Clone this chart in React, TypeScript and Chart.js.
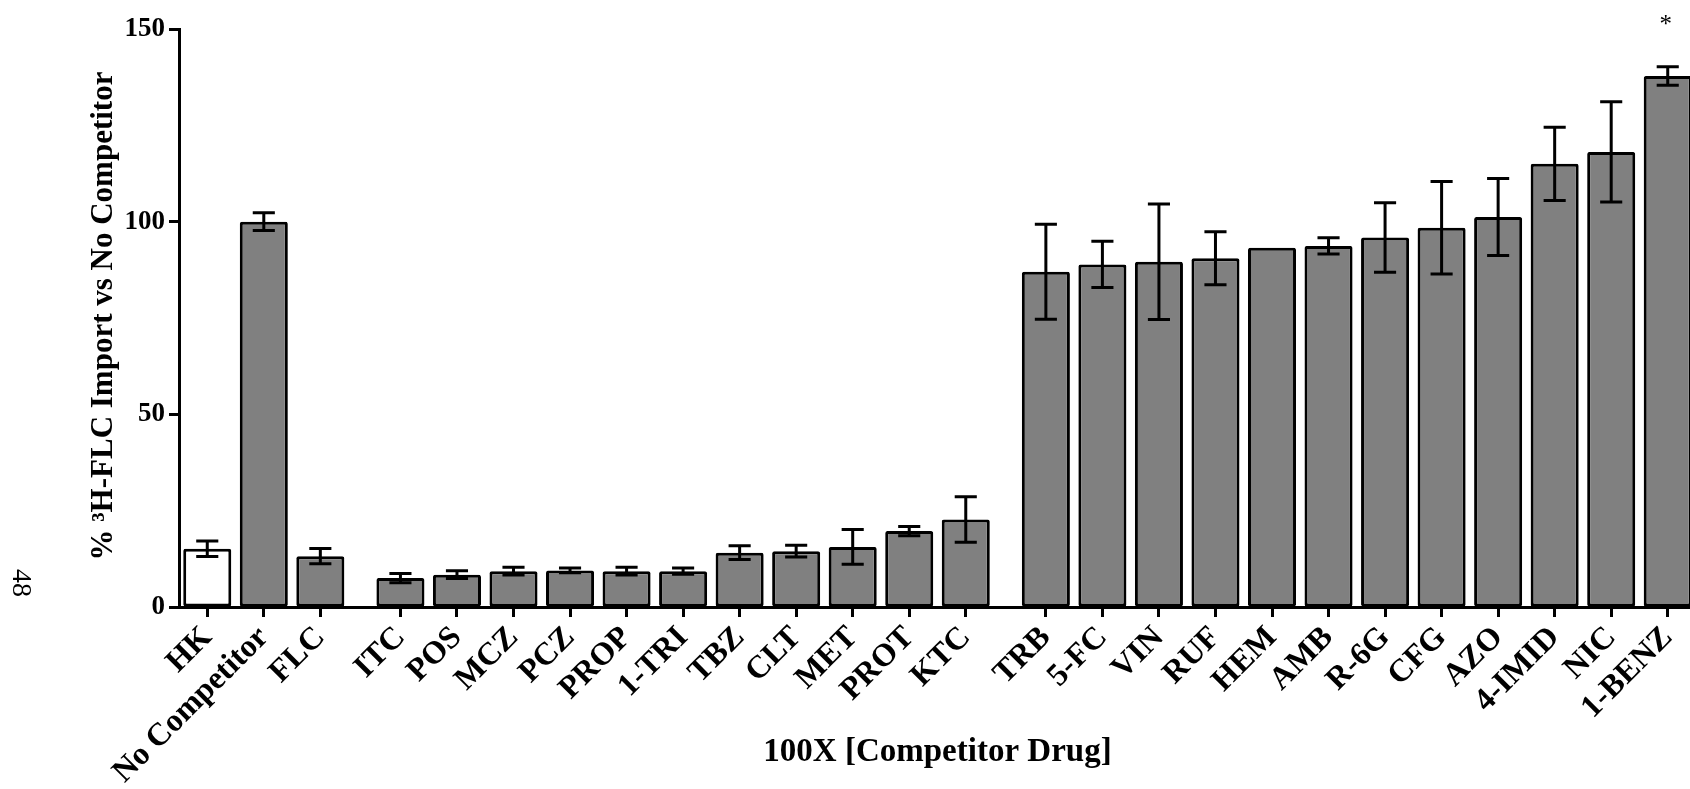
import React, { useEffect, useRef } from 'react';
import { Chart, registerables } from 'chart.js';

Chart.register(...registerables);

// ---- data ----
const categories = [
  'HK', 'No Competitor', 'FLC',
  'ITC', 'POS', 'MCZ', 'PCZ', 'PROP', '1-TRI', 'TBZ', 'CLT', 'MET', 'PROT', 'KTC',
  'TRB', '5-FC', 'VIN', 'RUF', 'HEM', 'AMB', 'R-6G', 'CFG', 'AZO', '4-IMID', 'NIC', '1-BENZ',
];
const groupOf = [
  0, 0, 0,
  1, 1, 1, 1, 1, 1, 1, 1, 1, 1, 1,
  2, 2, 2, 2, 2, 2, 2, 2, 2, 2, 2, 2,
];
const meanValues = [
  15.1, 100.0, 13.2,
  7.5, 8.4, 9.3, 9.5, 9.3, 9.3, 14.1, 14.5, 15.6, 19.7, 22.7,
  87.0, 88.9, 89.6, 90.5, 93.2, 93.7, 95.9, 98.4, 101.2, 115.0, 118.1, 137.8,
];
const errorValues = [
  2.0, 2.3, 2.0,
  1.2, 1.0, 1.0, 0.6, 1.0, 0.8, 1.8, 1.5, 4.5, 1.2, 5.9,
  12.3, 6.0, 15.0, 6.9, 0, 2.1, 9.0, 12.0, 10.0, 9.5, 13.0, 2.4,
];
const significant = ['1-BENZ'];
const controlCategory = 'HK';
const yTickValues = [0, 50, 100, 150];
const yTitle = '% ³H-FLC Import vs No Competitor';
const xTitle = '100X [Competitor Drug]';
const pageNumber = '48';

// ---- layout / style ----
const GROUP_GAP = 0.417;
const positions = categories.map((_, i) => i + groupOf[i] * GROUP_GAP);
const SERIF = "'Liberation Serif', 'Times New Roman', serif";
const GRAY = '#808080';

const overlayPlugin = {
  id: 'overlay',
  afterDatasetsDraw(chart: any) {
    const { ctx } = chart;
    const yScale = chart.scales.y;
    const meta = chart.getDatasetMeta(0);
    ctx.save();
    ctx.strokeStyle = '#000';
    ctx.lineWidth = 3;
    ctx.lineCap = 'butt';
    meta.data.forEach((bar: any, i: number) => {
      const e = errorValues[i];
      const cx = bar.x;
      const half = bar.width * 0.23;
      const top = yScale.getPixelForValue(meanValues[i] + e);
      const bot = yScale.getPixelForValue(meanValues[i] - e);
      if (e > 0) {
        ctx.beginPath();
        ctx.moveTo(cx, top);
        ctx.lineTo(cx, bot);
        ctx.moveTo(cx - half, top);
        ctx.lineTo(cx + half, top);
        ctx.moveTo(cx - half, bot);
        ctx.lineTo(cx + half, bot);
        ctx.stroke();
      }
      if (significant.includes(categories[i])) {
        ctx.fillStyle = '#000';
        ctx.font = `25px ${SERIF}`;
        ctx.textAlign = 'center';
        ctx.textBaseline = 'alphabetic';
        ctx.fillText('*', cx - 2, top - 35);
      }
    });
    ctx.restore();
  },
  afterDraw(chart: any) {
    const { ctx, chartArea } = chart;
    ctx.save();
    ctx.fillStyle = '#000';
    // y title
    ctx.save();
    ctx.translate(chartArea.left - 67, (chartArea.top + chartArea.bottom) / 2 - 2);
    ctx.rotate(-Math.PI / 2);
    ctx.font = `bold 31px ${SERIF}`;
    ctx.textAlign = 'center';
    ctx.textBaseline = 'alphabetic';
    ctx.fillText(yTitle, 0, 0);
    ctx.restore();
    // x title
    ctx.font = `bold 33px ${SERIF}`;
    ctx.textAlign = 'center';
    ctx.textBaseline = 'alphabetic';
    ctx.fillText(xTitle, (chartArea.left + chartArea.right) / 2, 761);
    // page number
    ctx.save();
    ctx.translate(20, 583);
    ctx.rotate(Math.PI / 2);
    ctx.font = `28px ${SERIF}`;
    ctx.textAlign = 'center';
    ctx.textBaseline = 'middle';
    ctx.fillText(pageNumber, 0, 0);
    ctx.restore();
    ctx.restore();
  },
};

export default function App() {
  const canvasRef = useRef<HTMLCanvasElement | null>(null);

  useEffect(() => {
    const canvas = canvasRef.current;
    if (!canvas) return;
    const axisGrid = {
      drawOnChartArea: false,
      drawTicks: true,
      offset: false,
      tickLength: 10,
      tickWidth: 3,
      tickColor: '#000',
    };
    const axisBorder = { display: true, color: '#000', width: 3 };
    const chart = new Chart(canvas, {
      type: 'bar',
      data: {
        datasets: [
          {
            data: positions.map((x, i) => ({ x, y: meanValues[i] })),
            backgroundColor: categories.map((c) => (c === controlCategory ? '#ffffff' : GRAY)),
            borderColor: '#000',
            borderWidth: 3,
            borderSkipped: false,
            borderRadius: 2,
            barPercentage: 0.85,
            categoryPercentage: 1,
          } as any,
        ],
      },
      options: {
        animation: false,
        responsive: false,
        maintainAspectRatio: false,
        layout: { padding: { top: 29, left: 0, right: 24, bottom: 0 } },
        plugins: {
          legend: { display: false },
          tooltip: { enabled: false },
        },
        scales: {
          x: {
            type: 'linear',
            offset: false,
            min: -0.5,
            max: positions[positions.length - 1] + 0.5,
            afterBuildTicks: (axis: any) => {
              axis.ticks = positions.map((v) => ({ value: v }));
            },
            afterFit: (s: any) => {
              s.height = 182;
            },
            ticks: {
              autoSkip: false,
              minRotation: 45,
              maxRotation: 45,
              padding: 2,
              color: '#000',
              font: { family: SERIF, size: 32, weight: 'bold' },
              callback: (_v: any, index: number) => categories[index],
            },
            grid: axisGrid,
            border: axisBorder,
          },
          y: {
            min: 0,
            max: 150,
            afterBuildTicks: (axis: any) => {
              axis.ticks = yTickValues.map((v) => ({ value: v }));
            },
            afterFit: (s: any) => {
              s.width = 179;
            },
            ticks: {
              padding: 4,
              color: '#000',
              font: { family: SERIF, size: 27, weight: 'bold' },
            },
            grid: axisGrid,
            border: axisBorder,
          },
        },
      } as any,
      plugins: [overlayPlugin],
    });
    return () => chart.destroy();
  }, []);

  return (
    <div
      style={{
        position: 'fixed',
        left: 0,
        top: 0,
        width: 1690,
        height: 789,
        overflow: 'hidden',
        background: '#fff',
      }}
    >
      <canvas ref={canvasRef} width={1720} height={789} style={{ width: 1720, height: 789, display: 'block' }} />
    </div>
  );
}
